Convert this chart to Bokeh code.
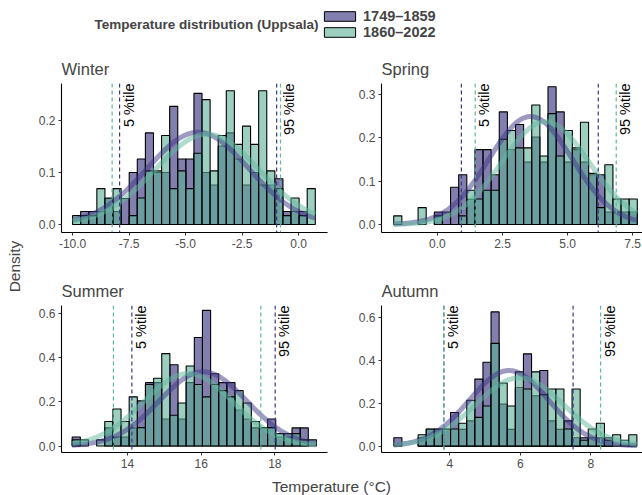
import numpy as np
from math import pi
from bokeh.plotting import figure
from bokeh.models import (Range1d, Span, Label, Legend, LegendItem, FixedTicker,
                          NumeralTickFormatter, ColumnDataSource)
from bokeh.layouts import row, column
from bokeh.embed import file_html
from bokeh.resources import INLINE
from bokeh.core.properties import value

FONT = "Liberation Sans"
PURPLE = "#2f2a78"
TEAL = "#5aaf96"
PURPLE_LINE = "#3d3585"
TEAL_LINE = "#62b7a0"
PURPLE_DASH = "#3a3687"
TEAL_DASH = "#5cb89e"

period_labels = ["1749–1859", "1860–2022"]
title_text = "Temperature distribution (Uppsala)"

# ---------------- data (density per bin, 30 bins) ----------------
winter_bin_start = -10.0
winter_bin_width = 0.358
winter_early = [0, 0.025, 0.025, 0.025, 0.05, 0.025, 0.05, 0.1, 0.126, 0.176,
                0.1, 0.1, 0.227, 0.126, 0.126, 0.252, 0.1, 0.076, 0.151, 0.176,
                0.126, 0.076, 0.1, 0.076, 0.076, 0.088, 0.025, 0.025, 0.025, 0]
winter_late = [0.017, 0.017, 0.017, 0.069, 0.051, 0.069, 0, 0.017, 0.051, 0.103,
               0.103, 0.171, 0.069, 0.103, 0.069, 0.137, 0.24, 0.103, 0.171, 0.257,
               0.154, 0.189, 0.154, 0.257, 0.103, 0.069, 0.017, 0.051, 0.017, 0.069]
winter_fit = {"early": (-4.45, 2.25), "late": (-4.05, 2.3)}
winter_p05 = {"early": -7.92, "late": -8.25}
winter_p95 = {"early": -0.97, "late": -0.80}

spring_bin_start = -1.68
spring_bin_width = 0.312
spring_early = [0, 0, 0, 0, 0, 0.029, 0.029, 0.086, 0.115, 0.058,
                0.173, 0.173, 0.115, 0.26, 0.173, 0.231, 0.144, 0.202, 0.144, 0.318,
                0.26, 0.144, 0.173, 0.144, 0.115, 0.115, 0.029, 0.029, 0.029, 0.029]
spring_late = [0.02, 0, 0, 0.039, 0, 0.02, 0, 0, 0.02, 0.079,
               0.059, 0.079, 0.079, 0.197, 0.217, 0.177, 0.177, 0.276, 0.158, 0.256,
               0.158, 0.217, 0.177, 0.236, 0.118, 0.039, 0.138, 0.059, 0.059, 0.059]
spring_fit = {"early": (3.58, 1.6), "late": (4.15, 1.68)}
spring_p05 = {"early": 0.92, "late": 1.45}
spring_p95 = {"early": 6.18, "late": 6.87}

summer_bin_start = 12.5
summer_bin_width = 0.221
summer_early = [0.041, 0, 0, 0, 0.082, 0.041, 0.041, 0.082, 0.204, 0.286,
                0.286, 0.122, 0.367, 0.122, 0.286, 0.49, 0.612, 0.326, 0.286, 0.286,
                0.163, 0.122, 0.082, 0.082, 0.122, 0.041, 0.041, 0.082, 0.082, 0]
summer_late = [0.028, 0.028, 0, 0.028, 0.111, 0.167, 0.111, 0.222, 0.083, 0.278,
               0.306, 0.417, 0.139, 0.194, 0.361, 0.278, 0.222, 0.278, 0.25, 0.222,
               0.25, 0.194, 0.111, 0.083, 0.083, 0.056, 0.056, 0.056, 0.028, 0.028]
summer_fit = {"early": (16.05, 1.19), "late": (15.65, 1.22)}
summer_p05 = {"early": 14.12, "late": 13.62}
summer_p95 = {"early": 18.01, "late": 17.62}

autumn_bin_start = 2.41
autumn_bin_width = 0.23
autumn_early = [0.039, 0, 0, 0.039, 0.078, 0.078, 0.078, 0.157, 0.078, 0.118,
                0.313, 0.392, 0.627, 0.196, 0.078, 0.274, 0.431, 0.235, 0.353, 0.118,
                0.078, 0.118, 0.039, 0.039, 0.039, 0.039, 0.039, 0, 0, 0]
autumn_late = [0, 0, 0, 0.053, 0.08, 0.08, 0.08, 0.08, 0.107, 0.214,
               0.134, 0.187, 0.48, 0.294, 0.187, 0.347, 0.267, 0.347, 0.24, 0.267,
               0.267, 0.08, 0.267, 0.027, 0.08, 0.107, 0.027, 0.053, 0.027, 0.053]
autumn_fit = {"early": (5.68, 1.13), "late": (5.98, 1.25)}
autumn_p05 = {"early": 3.83, "late": 3.83}
autumn_p95 = {"early": 7.50, "late": 8.28}

winter_xticks = [-10.0, -7.5, -5.0, -2.5, 0.0]
spring_xticks = [0.0, 2.5, 5.0, 7.5]
summer_xticks = [14, 16, 18]
autumn_xticks = [4, 6, 8]
winter_yticks = [0.0, 0.1, 0.2]
spring_yticks = [0.0, 0.1, 0.2, 0.3]
summer_yticks = [0.0, 0.2, 0.4, 0.6]
autumn_yticks = [0.0, 0.2, 0.4, 0.6]


def npdf(x, m, s):
    return np.exp(-0.5 * ((x - m) / s) ** 2) / (s * np.sqrt(2 * np.pi))


def blank(width, height):
    f = figure(width=width, height=height, toolbar_location=None, output_backend="svg",
               min_border=0, x_axis_location=None, y_axis_location=None,
               x_range=Range1d(0, 1), y_range=Range1d(0, 1))
    f.xgrid.visible = False
    f.ygrid.visible = False
    f.outline_line_color = None
    return f


def panel(name, start, width, early, late, fit, p05, p95, xr, yr, xticks, yticks,
          xfmt, geom):
    W, H, L, R, T, B = geom
    p = figure(width=W, height=H, x_range=Range1d(*xr), y_range=Range1d(*yr),
               toolbar_location=None, output_backend="svg", title=name,
               min_border_left=L, min_border_right=R, min_border_top=T,
               min_border_bottom=B)
    p.title.text_font = FONT
    p.title.text_font_size = "16.5px"
    p.title.text_font_style = "normal"
    p.title.standoff = 12
    p.xgrid.visible = False
    p.ygrid.visible = False
    p.outline_line_color = None
    n = len(early)
    edges = start + width * np.arange(n + 1)
    for vals, col in ((early, PURPLE), (late, TEAL)):
        v = np.array(vals, dtype=float)
        m = v > 0
        src = ColumnDataSource(dict(left=edges[:-1][m], right=edges[1:][m], top=v[m]))
        p.quad(left="left", right="right", top="top", bottom=0, source=src,
               fill_color=col, fill_alpha=0.6, line_color="black", line_width=1.1)
    xs = np.linspace(edges[0], edges[-1], 300)
    for key, col in (("early", PURPLE_LINE), ("late", TEAL_LINE)):
        mu, sd = fit[key]
        p.line(xs, npdf(xs, mu, sd), line_color=col, line_width=5, line_alpha=0.5)
    for d in (p05, p95):
        p.add_layout(Span(location=d["early"], dimension="height", line_color=PURPLE_DASH,
                          line_dash="4 3", line_width=1.2))
        p.add_layout(Span(location=d["late"], dimension="height", line_color=TEAL_DASH,
                          line_dash="4 3", line_width=1.2))
    lx = [max(p05.values()), max(p95.values())]
    p.text(x=lx, y=[yr[1], yr[1]], text=["5 %tile", "95 %tile"], angle=pi / 2,
           text_align="right", text_baseline="top", x_offset=1,
           text_font=value(FONT), text_font_size="14.5px", text_color="black")
    p.xaxis.ticker = FixedTicker(ticks=xticks)
    p.yaxis.ticker = FixedTicker(ticks=yticks)
    p.xaxis.formatter = NumeralTickFormatter(format=xfmt)
    p.yaxis.formatter = NumeralTickFormatter(format="0.0")
    for ax in (p.xaxis[0], p.yaxis[0]):
        ax.axis_line_color = "black"
        ax.axis_line_width = 1.1
        ax.major_tick_line_color = "#333333"
        ax.major_tick_out = 3
        ax.major_tick_in = 0
        ax.minor_tick_line_color = None
        ax.major_label_text_font = FONT
        ax.major_label_text_font_size = "12px"
        ax.major_label_text_color = "#4d4d4d"
        ax.major_label_standoff = 3
    return p


# (width, height, border left, right, top, bottom)
top_geom_l = (318, 210, 27, 25, 33, 28)
top_geom_r = (290, 210, 29, 0, 33, 28)
bot_geom_l = (318, 213, 27, 25, 45, 21)
bot_geom_r = (290, 213, 29, 0, 45, 21)

pw = panel("Winter", winter_bin_start, winter_bin_width, winter_early, winter_late,
           winter_fit, winter_p05, winter_p95, (-10.49, 1.28), (-0.0154, 0.271),
           winter_xticks, winter_yticks, "0.0", top_geom_l)
ps = panel("Spring", spring_bin_start, spring_bin_width, spring_early, spring_late,
           spring_fit, spring_p05, spring_p95, (-2.15, 7.88), (-0.0185, 0.3256),
           spring_xticks, spring_yticks, "0.0", top_geom_r)
pu = panel("Summer", summer_bin_start, summer_bin_width, summer_early, summer_late,
           summer_fit, summer_p05, summer_p95, (12.21, 19.43), (-0.029, 0.634),
           summer_xticks, summer_yticks, "0", bot_geom_l)
pa = panel("Autumn", autumn_bin_start, autumn_bin_width, autumn_early, autumn_late,
           autumn_fit, autumn_p05, autumn_p95, (2.06, 9.47), (-0.030, 0.657),
           autumn_xticks, autumn_yticks, "0", bot_geom_r)

# ---------------- header with legend ----------------
hdr = blank(642, 50)
r_e = hdr.quad(left=[0], right=[0], top=[0], bottom=[0], fill_color=PURPLE, fill_alpha=0.6,
               line_color="black", line_width=1, visible=False)
r_l = hdr.quad(left=[0], right=[0], top=[0], bottom=[0], fill_color=TEAL, fill_alpha=0.6,
               line_color="black", line_width=1, visible=False)
leg = Legend(items=[LegendItem(label=value(period_labels[0]), renderers=[r_e]),
                    LegendItem(label=value(period_labels[1]), renderers=[r_l])],
             location=(320, 10), orientation="vertical", glyph_width=39, glyph_height=12,
             label_standoff=4, spacing=0, padding=0, margin=0, border_line_color=None,
             background_fill_alpha=0, inactive_fill_alpha=0,
             label_text_font=FONT, label_text_font_size="14.5px",
             label_text_font_style="bold", label_height=14)
hdr.add_layout(leg)
hdr.add_layout(Label(x=318, y=26, x_units="screen", y_units="screen", text=title_text,
                     text_align="right", text_baseline="middle", text_font=FONT,
                     text_font_size="13.5px", text_font_style="bold"))

# ---------------- axis titles ----------------
ylab = blank(34, 423)
ylab.add_layout(Label(x=14, y=207, x_units="screen", y_units="screen", text="Density",
                      angle=pi / 2, text_align="center", text_baseline="middle",
                      text_font=FONT, text_font_size="15.5px"))

xlab = blank(642, 22)
xlab.add_layout(Label(x=331, y=9, x_units="screen", y_units="screen",
                      text="Temperature (°C)", text_align="center", text_baseline="middle",
                      text_font=FONT, text_font_size="15.5px"))

grid = column(row(pw, ps), row(pu, pa))
layout = column(hdr, row(ylab, grid), xlab)

open("out.html", "w").write(file_html(layout, INLINE))
